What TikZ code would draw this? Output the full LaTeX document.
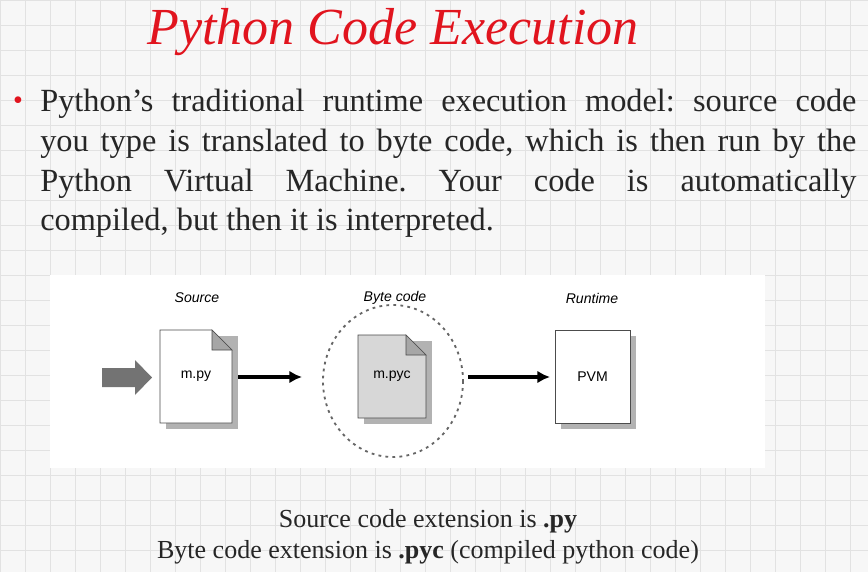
\documentclass[tikz,border=0pt]{standalone}
\usepackage{fontspec}
\setmainfont{Liberation Serif}
\setsansfont{Liberation Sans}
\usetikzlibrary{positioning,arrows.meta}
\frenchspacing
\definecolor{titlered}{RGB}{225,20,30}
\definecolor{gridgray}{RGB}{226,226,226}
\definecolor{docgray}{RGB}{215,215,215}
\tikzset{
  stage/.style={font=\sffamily\itshape\fontsize{10}{12}\selectfont, inner sep=0pt},
  bodyline/.style={anchor=west, inner sep=0pt, font=\fontsize{23}{26}\selectfont, text=black!85},
  noteline/.style={inner sep=0pt, font=\fontsize{18.5}{22}\selectfont, text=black!85},
  flow/.style={line width=2.2pt, -{Latex[length=9pt,width=9pt]}},
}
\newcommand{\pyfile}[6]{ % #1: left, #2: top, #3: right, #4: bottom, #5: fill, #6: name
  \fill[black!30] (#1+6,#2+6) rectangle (#3+6,#4+6);
  \filldraw[fill=#5, draw=black!70] (#1,#2) -- (#3-20,#2) -- (#3,#2+20) -- (#3,#4) -- (#1,#4) -- cycle;
  \filldraw[fill=black!35, draw=black!70] (#3-20,#2) -- (#3-20,#2+20) -- (#3,#2+20) -- cycle;
  \coordinate (#6) at ({(#1+#3)/2},{(#2+#4)/2});
}
\begin{document}
\begin{tikzpicture}[x=0.025cm, y=-0.025cm]
  \useasboundingbox (0,0) rectangle (868,572);
  \fill[white!97!black] (0,0) rectangle (868,572);
  %grid
  \foreach \gx in {0,25,...,850} \draw[gridgray, line width=0.6pt] (\gx,0) -- (\gx,572);
  \foreach \gy in {0,25,...,575} \draw[gridgray, line width=0.6pt] (0,\gy) -- (868,\gy);
  \fill[white] (50,275) rectangle (765,468);

  %title and text
  \node[font=\itshape\fontsize{37}{44}\selectfont, text=titlered, inner sep=0pt] (title) at (393,32) {Python Code Execution};
  \node[text=titlered, font=\fontsize{20}{20}\selectfont, inner sep=0pt] (dot) at (18,103) {\textbullet};
  \node[bodyline] (l1) at (40,104) {\makebox[20.4cm][s]{Python’s traditional runtime execution model: source code}};
  \node[bodyline] (l2) at (40,144) {\makebox[20.4cm][s]{you type is translated to byte code, which is then run by the}};
  \node[bodyline] (l3) at (40,184) {\makebox[20.4cm][s]{Python Virtual Machine. Your code is automatically}};
  \node[bodyline] (l4) at (40,223) {compiled, but then it is interpreted.};

  %stages
  \node[stage] (src) at (197,298) {Source};
  \node[stage] (byte) at (395,298) {Byte code};
  \node[stage] (run) at (592,298) {Runtime};

  \fill[black!55] (102,368) -- (135,368) -- (135,360) -- (152,377.5) -- (135,395) -- (135,387) -- (102,387) -- cycle;
  \pyfile{160}{330}{232}{423}{white}{py}
  \node[font=\sffamily\fontsize{10}{11}\selectfont] (pylbl) at (py) {m.py};

  \draw[black!60, line width=1.3pt, dash pattern=on 2pt off 3pt] (393,381) ellipse [x radius=70, y radius=76];
  \pyfile{358}{335}{426}{418}{docgray}{pyc}
  \node[font=\sffamily\fontsize{10}{11}\selectfont] (pyclbl) at (pyc) {m.pyc};

  \fill[black!30] (561,336) rectangle (636,429);
  \filldraw[fill=white, draw=black!70] (555,330) rectangle (630,423);
  \coordinate (pvm) at (592.5,376.5);
  \node[font=\sffamily\fontsize{10}{11}\selectfont] (pvmlbl) at (pvm) {PVM};

  \coordinate (a1) at (238,377);
  \coordinate (b1) at (302,377);
  \coordinate (a2) at (468,377);
  \coordinate (b2) at (550,377);
  \draw[flow] (a1) -- (b1);
  \draw[flow] (a2) -- (b2);

  %notes
  \node[noteline] (n1) at (428,521) {Source code extension is \textbf{.py}};
  \node[noteline] (n2) at (428,552) {Byte code extension is \textbf{.pyc} (compiled python code)};
\end{tikzpicture}
\end{document}
